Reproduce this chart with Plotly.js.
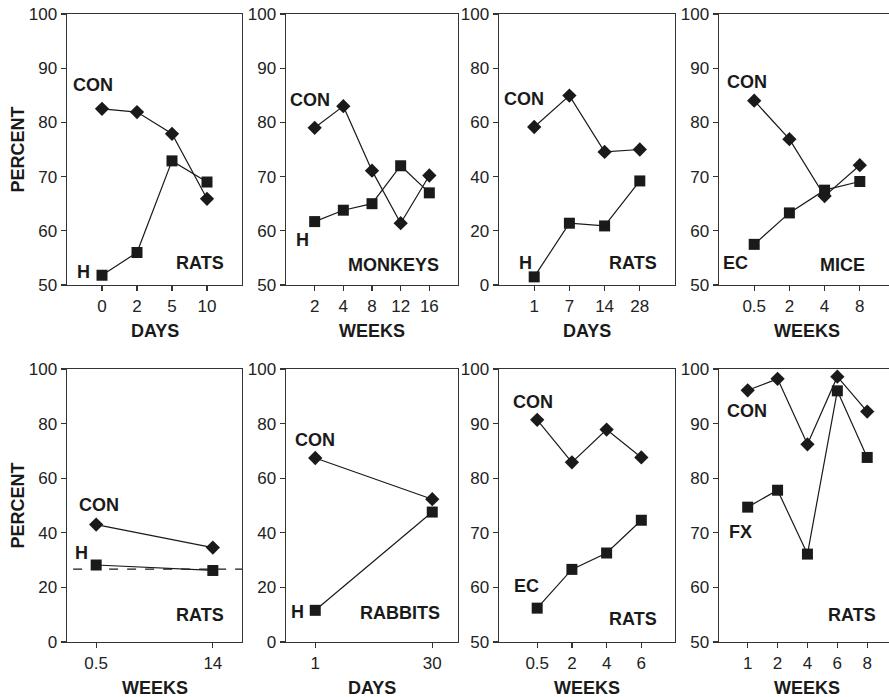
<!DOCTYPE html>
<html><head><meta charset="utf-8">
<script src="https://cdn.plot.ly/plotly-3.0.1.min.js"></script>
<style>html,body{margin:0;padding:0;overflow:hidden;background:#fff}#chart{width:900px;height:697px}</style>
</head><body><div id="chart"></div><script>
// ---- data ----
// Top row
const p1X = ['0','2','5','10'];            // DAYS, rats
const p1Con = [82.5, 81.9, 77.9, 65.9];
const p1H   = [51.8, 56.0, 72.9, 69.0];

const p2X = ['2','4','8','12','16'];       // WEEKS, monkeys
const p2Con = [79.0, 83.0, 71.1, 61.4, 70.2];
const p2H   = [61.7, 63.8, 65.0, 72.0, 67.0];

const p3X = ['1','7','14','28'];           // DAYS, rats
const p3Con = [58.3, 69.9, 49.1, 50.0];
const p3H   = [3.0, 22.8, 21.8, 38.4];

const p4X = ['0.5','2','4','8'];           // WEEKS, mice
const p4Con = [84.0, 76.9, 66.4, 72.1];
const p4EC  = [57.5, 63.3, 67.5, 69.1];

// Bottom row
const p5X = ['0.5','14'];                  // WEEKS, rats
const p5Con = [43.0, 34.6];
const p5H   = [28.2, 26.2];
const p5Chance = 26.7;                     // dashed reference level

const p6X = ['1','30'];                    // DAYS, rabbits
const p6Con = [67.4, 52.3];
const p6H   = [11.6, 47.6];

const p7X = ['0.5','2','4','6'];           // WEEKS, rats
const p7Con = [90.7, 82.9, 88.9, 83.8];
const p7EC  = [56.2, 63.3, 66.3, 72.3];

const p8X = ['1','2','4','6','8'];         // WEEKS, rats
const p8Con = [96.1, 98.2, 86.2, 98.6, 92.2];
const p8FX  = [74.7, 77.8, 66.1, 96.0, 83.8];

// ---- layout config ----
const W = 900, H = 697;
const colsPx = [[67,242],[286,458],[499,675],[719,895]];
const rowsPx = [[14,285],[369,642]];
const panels = [
  {x:p1X, a:p1Con, b:p1H, yr:[50,100], dt:10, xr:[-1,4],    xt:'DAYS',  lab:[['CON',-0.27,86.9],['H',-0.53,52.45],['RATS',2.8,54.0]]},
  {x:p2X, a:p2Con, b:p2H, yr:[50,100], dt:10, xr:[-1,5],    xt:'WEEKS', lab:[['CON',-0.16,84.1],['H',-0.42,58.3],['MONKEYS',2.74,53.6]]},
  {x:p3X, a:p3Con, b:p3H, yr:[0,100],  dt:20, xr:[-1,4],    xt:'DAYS',  lab:[['CON',-0.29,68.6],['H',-0.26,8.0],['RATS',2.82,8.0]]},
  {x:p4X, a:p4Con, b:p4EC,yr:[50,100], dt:10, xr:[-1,4],    xt:'WEEKS', lab:[['CON',-0.2,87.5],['EC',-0.52,54.0],['MICE',2.51,53.7]]},
  {x:p5X, a:p5Con, b:p5H, yr:[0,100],  dt:20, xr:[-0.25,1.25], xt:'WEEKS', lab:[['CON',0.02,50.2],['H',-0.13,32.7],['RATS',0.89,9.9]]},
  {x:p6X, a:p6Con, b:p6H, yr:[0,100],  dt:20, xr:[-0.25,1.22], xt:'DAYS',  lab:[['CON',0.0,74.0],['H',-0.15,10.9],['RABBITS',0.72,10.7]]},
  {x:p7X, a:p7Con, b:p7EC,yr:[50,100], dt:10, xr:[-1.1,3.97], xt:'WEEKS', lab:[['CON',-0.11,94.0],['EC',-0.32,60.3],['RATS',2.77,54.3]]},
  {x:p8X, a:p8Con, b:p8FX,yr:[50,100], dt:10, xr:[-0.96,4.93], xt:'WEEKS', lab:[['CON',-0.01,92.4],['FX',-0.23,70.1],['RATS',3.5,54.9]]}
];

const ink = '#1a1a1a';
const tickFont = {family:'Liberation Sans, Arial, sans-serif', size:17, color:'#222'};
const boldFont = {family:'Liberation Sans, Arial, sans-serif', size:18, color:'#1a1a1a', weight:'bold'};

const data = [], annotations = [], shapes = [];
const layout = {width:W, height:H, margin:{l:0,r:0,t:0,b:0}, showlegend:false,
  paper_bgcolor:'#fff', plot_bgcolor:'#fff', annotations, shapes};

panels.forEach((p, k) => {
  const n = k + 1, row = Math.floor(k/4), col = k % 4;
  const xa = 'xaxis' + (n===1?'':n), ya = 'yaxis' + (n===1?'':n);
  const xr = 'x' + (n===1?'':n), yr = 'y' + (n===1?'':n);
  const cx = colsPx[col], ry = rowsPx[row];
  layout[xa] = {domain:[cx[0]/W, cx[1]/W], anchor:yr, type:'category', range:p.xr,
    showline:true, linecolor:'#333', linewidth:1.4, mirror:true, ticks:'outside', ticklen:5,
    tickwidth:1.2, tickcolor:'#333', showgrid:false, zeroline:false, tickfont:tickFont, fixedrange:true};
  layout[ya] = {domain:[1-ry[1]/H, 1-ry[0]/H], anchor:xr, range:p.yr, dtick:p.dt, tick0:0,
    showline:true, linecolor:'#333', linewidth:1.4, mirror:true, ticks:'outside', ticklen:5,
    tickwidth:1.2, tickcolor:'#333', showgrid:false, zeroline:false, tickfont:tickFont, fixedrange:true};
  data.push({type:'scatter', mode:'lines+markers', x:p.x, y:p.a, xaxis:xr, yaxis:yr,
    line:{color:ink, width:1.2}, marker:{symbol:'diamond', size:11, color:ink}, cliponaxis:false});
  data.push({type:'scatter', mode:'lines+markers', x:p.x, y:p.b, xaxis:xr, yaxis:yr,
    line:{color:ink, width:1.2}, marker:{symbol:'square', size:11, color:ink}, cliponaxis:false});
  p.lab.forEach(l => annotations.push({text:l[0], x:l[1], y:l[2], xref:xr, yref:yr,
    showarrow:false, font:boldFont, xanchor:'center', yanchor:'middle'}));
  // x-axis title
  annotations.push({text:p.xt, xref:xr+' domain', x:0.5, yref:'paper',
    y:1-(ry[1]+46)/H, showarrow:false, font:boldFont, xanchor:'center', yanchor:'middle'});
  if (col === 0) {
    annotations.push({text:'PERCENT', xref:'paper', x:17/W, yref:'paper',
      y:1-((ry[0]+ry[1])/2)/H, textangle:-90, showarrow:false, font:boldFont,
      xanchor:'center', yanchor:'middle'});
  }
});

// dashed chance level in panel 5
shapes.push({type:'line', xref:'x5 domain', x0:0.035, x1:1, yref:'y5', y0:p5Chance, y1:p5Chance,
  line:{color:ink, width:1.2, dash:'dash'}});

Plotly.newPlot('chart', data, layout, {staticPlot:true, displayModeBar:false});
</script></body></html>
